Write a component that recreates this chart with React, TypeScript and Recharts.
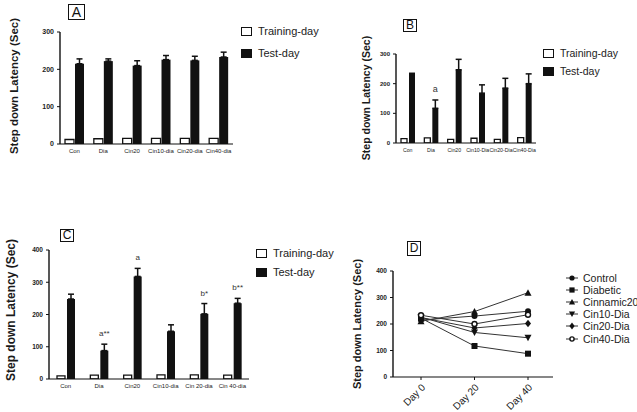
import React from 'react';
import { BarChart, Bar, XAxis, YAxis, ErrorBar, LabelList, LineChart, Line } from 'recharts';

const FONT = '"Liberation Sans", Arial, sans-serif';
const INK = '#111';

// A: day 0
const groupsA = ['Con', 'Dia', 'Cin20', 'Cin10-dia', 'Cin20-dia', 'Cin40-dia'];
const trainingA = [12, 14, 15, 15, 15, 15];
const testA = [215, 222, 210, 226, 224, 233];
const semA = [13, 6, 13, 11, 11, 13];
const marksA = ['', '', '', '', '', ''];

// B: day 20
const groupsB = ['Con', 'Dia', 'Cin20', 'Cin10-Dia', 'Cin20-Dia', 'Cin40-Dia'];
const trainingB = [15, 17, 12, 16, 12, 18];
const testB = [230, 117, 247, 168, 185, 200];
const semB = [5, 28, 35, 28, 33, 33];
const marksB = ['', 'a', '', '', '', ''];

// C: day 40
const groupsC = ['Con', 'Dia', 'Cin20', 'Cin10-dia', 'Cin 20-dia', 'Cin 40-dia'];
const trainingC = [10, 12, 12, 13, 13, 12];
const testC = [248, 88, 318, 148, 202, 235];
const semC = [15, 20, 25, 20, 32, 15];
const marksC = ['', 'a**', 'a', '', 'b*', 'b**'];

// D: test-day latency over time
const days = ['Day 0', 'Day 20', 'Day 40'];
const lineNames = ['Control', 'Diabetic', 'Cinnamic20', 'Cin10-Dia', 'Cin20-Dia', 'Cin40-Dia'];
const lineSymbols = ['circle', 'square', 'triangle', 'triangleDown', 'diamond', 'open'];

type Rect = { x0: number; x1: number; y0: number; y1: number };

function buildBars(groups: string[], training: number[], test: number[], sem: number[], marks: string[]) {
  return groups.map((g, i) => ({
    group: g,
    training: training[i],
    test: test[i],
    sem: [0, sem[i]],
    mark: marks[i],
  }));
}

const lineData = days.map((d, j) => {
  const row: Record<string, any> = { day: d };
  lineNames.forEach((n, i) => {
    row[n] = [testA, testB, testC][j][i];
  });
  return row;
});

function Marker({ kind, cx, cy, r = 3 }: { kind: string; cx: number; cy: number; r?: number }) {
  switch (kind) {
    case 'square':
      return <rect x={cx - r} y={cy - r} width={r * 2} height={r * 2} fill={INK} />;
    case 'triangle':
      return <polygon points={`${cx},${cy - r - 0.5} ${cx - r - 0.5},${cy + r} ${cx + r + 0.5},${cy + r}`} fill={INK} />;
    case 'triangleDown':
      return <polygon points={`${cx},${cy + r + 0.5} ${cx - r - 0.5},${cy - r} ${cx + r + 0.5},${cy - r}`} fill={INK} />;
    case 'diamond':
      return <polygon points={`${cx},${cy - r - 0.8} ${cx + r},${cy} ${cx},${cy + r + 0.8} ${cx - r},${cy}`} fill={INK} />;
    case 'open':
      return <circle cx={cx} cy={cy} r={r - 0.5} fill="#fff" stroke={INK} strokeWidth={1.4} />;
    default:
      return <circle cx={cx} cy={cy} r={r} fill={INK} />;
  }
}

function VTitle({ cx, cy, size }: { cx: number; cy: number; size: number }) {
  return (
    <div
      style={{
        position: 'absolute',
        left: cx,
        top: cy,
        transform: 'translate(-50%, -50%) rotate(-90deg)',
        whiteSpace: 'nowrap',
        fontFamily: FONT,
        fontWeight: 'bold',
        fontSize: size,
        color: '#1a1a1a',
      }}
    >
      Step down Latency (Sec)
    </div>
  );
}

function Tag({ x, y, w, h, size, letter }: { x: number; y: number; w: number; h: number; size: number; letter: string }) {
  return (
    <div
      style={{
        position: 'absolute',
        left: x,
        top: y,
        width: w,
        height: h,
        boxSizing: 'border-box',
        border: '1.3px solid #111',
        fontFamily: FONT,
        fontSize: size,
        lineHeight: `${h - 2}px`,
        textAlign: 'center',
        color: '#111',
      }}
    >
      {letter}
    </div>
  );
}

function BarLegend({ x, y, gap, size }: { x: number; y: number; gap: number; size: number }) {
  const rows = [
    { label: 'Training-day', fill: '#fff' },
    { label: 'Test-day', fill: INK },
  ];
  return (
    <>
      {rows.map((r, i) => (
        <div
          key={r.label}
          style={{
            position: 'absolute',
            left: x,
            top: y + i * gap - 6,
            height: 12,
            display: 'flex',
            alignItems: 'center',
            fontFamily: FONT,
            fontSize: size,
            color: '#222',
            whiteSpace: 'nowrap',
          }}
        >
          <span
            style={{
              display: 'inline-block',
              width: 11,
              height: 9,
              boxSizing: 'border-box',
              border: '1.4px solid #111',
              background: r.fill,
              marginRight: 6,
            }}
          />
          {r.label}
        </div>
      ))}
    </>
  );
}

function LineLegend({ x, y, gap, size }: { x: number; y: number; gap: number; size: number }) {
  return (
    <>
      {lineNames.map((n, i) => (
        <div
          key={n}
          style={{
            position: 'absolute',
            left: x,
            top: y + i * gap - 6,
            height: 12,
            display: 'flex',
            alignItems: 'center',
            fontFamily: FONT,
            fontSize: size,
            color: '#222',
            whiteSpace: 'nowrap',
          }}
        >
          <svg width={12} height={8} style={{ marginRight: 5 }}>
            <line x1={0} y1={4} x2={12} y2={4} stroke="#333" strokeWidth={1} />
            <Marker kind={lineSymbols[i]} cx={6} cy={4} r={2.6} />
          </svg>
          {n}
        </div>
      ))}
    </>
  );
}

type BarPanelProps = {
  plot: Rect;
  data: ReturnType<typeof buildBars>;
  sem: number[];
  yMax: number;
  ticks: number[];
  barSize: number;
  barGap: number;
  catFont: number;
  tickFont: number;
  markFont: number;
};

function BarPanel({ plot, data, sem, yMax, ticks, barSize, barGap, catFont, tickFont, markFont }: BarPanelProps) {
  const yW = 30;
  const mt = 8;
  const mr = 4;
  const xH = 20;
  const left = plot.x0 - yW;
  const top = plot.y0 - mt;
  const width = plot.x1 - left + mr;
  const height = plot.y1 - top + xH;

  // significance letters sit above the top of each error bar
  const renderMark = (p: any) => {
    const { x, y, width: w, height: h, value, index } = p;
    if (!value) return null;
    const perUnit = h / data[index].test;
    const top = y - sem[index] * perUnit;
    return (
      <text
        x={x + w / 2}
        y={top - 8}
        textAnchor="middle"
        fontSize={markFont}
        fontFamily={FONT}
        fill="#333"
      >
        {value}
      </text>
    );
  };

  return (
    <div style={{ position: 'absolute', left, top }}>
      <BarChart
        width={width}
        height={height}
        data={data}
        margin={{ top: mt, right: mr, left: 0, bottom: 0 }}
        barGap={barGap}
      >
        <XAxis
          dataKey="group"
          height={xH}
          tickLine={false}
          tickSize={4}
          tickMargin={1}
          axisLine={{ stroke: INK, strokeWidth: 1.2 }}
          interval={0}
          tick={{ fontSize: catFont, fontFamily: FONT, fill: '#222' }}
        />
        <YAxis
          width={yW}
          domain={[0, yMax]}
          ticks={ticks}
          allowDataOverflow
          tickSize={3}
          tickMargin={3}
          axisLine={{ stroke: INK, strokeWidth: 1.4 }}
          tickLine={{ stroke: INK }}
          tick={{ fontSize: tickFont, fontFamily: FONT, fontWeight: 'bold', fill: '#222' }}
        />
        <Bar dataKey="training" barSize={barSize} fill="#fff" stroke={INK} strokeWidth={1.3} isAnimationActive={false} />
        <Bar dataKey="test" barSize={barSize} fill={INK} isAnimationActive={false}>
          <ErrorBar dataKey="sem" width={3} stroke={INK} strokeWidth={1.5} />
          <LabelList dataKey="mark" content={renderMark} />
        </Bar>
      </BarChart>
    </div>
  );
}

function LinePanel({ plot }: { plot: Rect }) {
  const yW = 30;
  const mt = 8;
  const mr = 4;
  const xH = 36;
  const left = plot.x0 - yW;
  const top = plot.y0 - mt;
  const width = plot.x1 - left + mr;
  const height = plot.y1 - top + xH;

  return (
    <div style={{ position: 'absolute', left, top }}>
      <LineChart width={width} height={height} data={lineData} margin={{ top: mt, right: mr, left: 0, bottom: 0 }}>
        <XAxis
          dataKey="day"
          height={xH}
          padding={{ left: 28, right: 25 }}
          tickSize={3}
          tickMargin={3}
          angle={-45}
          textAnchor="end"
          axisLine={{ stroke: INK, strokeWidth: 1.2 }}
          tickLine={{ stroke: INK }}
          tick={{ fontSize: 10, fontFamily: FONT, fill: '#222' }}
        />
        <YAxis
          width={yW}
          domain={[0, 400]}
          ticks={[0, 100, 200, 300, 400]}
          tickSize={3}
          tickMargin={3}
          axisLine={{ stroke: INK, strokeWidth: 1.4 }}
          tickLine={{ stroke: INK }}
          tick={{ fontSize: 6.5, fontFamily: FONT, fontWeight: 'bold', fill: '#222' }}
        />
        {lineNames.map((n, i) => (
          <Line
            key={n}
            dataKey={n}
            type="linear"
            stroke="#333"
            strokeWidth={1}
            isAnimationActive={false}
            dot={(p: any) => <Marker key={`${n}-${p.index}`} kind={lineSymbols[i]} cx={p.cx} cy={p.cy} r={3} />}
          />
        ))}
      </LineChart>
    </div>
  );
}

export default function App() {
  const dataA = buildBars(groupsA, trainingA, testA, semA, marksA);
  const dataB = buildBars(groupsB, trainingB, testB, semB, marksB);
  const dataC = buildBars(groupsC, trainingC, testC, semC, marksC);

  return (
    <div
      style={{
        position: 'absolute',
        left: 0,
        top: 0,
        width: 637,
        height: 412,
        background: '#fff',
        overflow: 'hidden',
      }}
    >
      <Tag x={68} y={4} w={17} h={16} size={14} letter="A" />
      <VTitle cx={14} cy={86} size={11.5} />
      <BarPanel
        plot={{ x0: 60, x1: 233, y0: 32, y1: 144 }}
        data={dataA}
        sem={semA}
        yMax={300}
        ticks={[0, 100, 200, 300]}
        barSize={9}
        barGap={1}
        catFont={6}
        tickFont={7}
        markFont={9}
      />
      <BarLegend x={241} y={31} gap={22} size={11} />

      <Tag x={403} y={19} w={14} h={13} size={12} letter="B" />
      <VTitle cx={366} cy={98} size={10.5} />
      <BarPanel
        plot={{ x0: 396, x1: 536, y0: 54, y1: 143 }}
        data={dataB}
        sem={semB}
        yMax={300}
        ticks={[0, 100, 200, 300]}
        barSize={6}
        barGap={2}
        catFont={5.2}
        tickFont={6}
        markFont={9}
      />
      <BarLegend x={543} y={53} gap={18} size={10.5} />

      <Tag x={60} y={229} w={14} h={13} size={12} letter="C" />
      <VTitle cx={11} cy={310} size={12} />
      <BarPanel
        plot={{ x0: 49, x1: 249, y0: 250, y1: 379 }}
        data={dataC}
        sem={semC}
        yMax={400}
        ticks={[0, 100, 200, 300, 400]}
        barSize={8}
        barGap={2}
        catFont={6}
        tickFont={6.5}
        markFont={8}
      />
      <BarLegend x={256} y={253} gap={19} size={11} />

      <Tag x={407} y={241} w={14} h={15} size={12} letter="D" />
      <VTitle cx={357} cy={324} size={11} />
      <LinePanel plot={{ x0: 393, x1: 553, y0: 271, y1: 377 }} />
      <LineLegend x={566} y={278} gap={12.1} size={10.5} />
    </div>
  );
}
